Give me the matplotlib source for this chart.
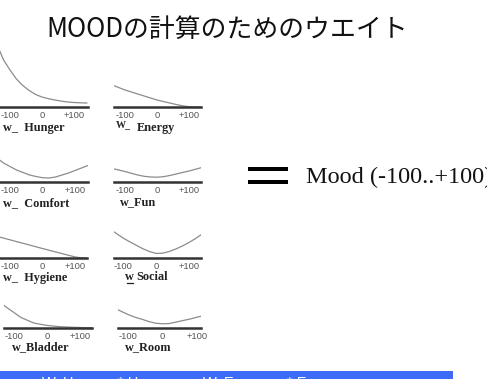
import matplotlib
matplotlib.use("Agg")
import matplotlib.pyplot as plt
from matplotlib.patches import Rectangle
from matplotlib.lines import Line2D

# ---------------- data ----------------
title = "MOODの計算のためのウエイト"
result_label = "Mood (-100..+100)"
x_vals = [-140, -120, -100, -80, -60, -40, -20, 0, 20, 40, 60, 80, 100, 120, 140]
tick_vals = [-100, 0, 100]
tick_labels = ["-100", "0", "+100"]

w_hunger = [62, 47, 37, 28, 21.5, 16.5, 12.5, 10, 8.3, 7, 5.9, 5, 4.5, 4.2, 4]
w_energy = [22, 19.5, 17, 15, 13, 11, 9, 7, 5.5, 4, 2.5, 1.2, 0.3, 0, 0]
w_comfort = [24, 19, 15.5, 12, 9.5, 7, 5.5, 4.3, 4, 5, 7, 9, 11.5, 14, 16.5]
w_fun = [13.5, 12, 10.5, 8.7, 7, 5.7, 5, 4.8, 5.3, 6.5, 8, 9.5, 11, 12.7, 14.5]
w_hygiene = [21.6, 19.9, 18.2, 16.4, 14.7, 13, 11.2, 9.5, 7.8, 6.1, 4.4, 2.7, 1.1, 0.1, 0]
w_social = [29, 24.5, 20, 16.3, 12.8, 9.3, 6.5, 4.6, 4.8, 6.5, 9, 12, 15.5, 19.5, 24]
w_bladder = [25, 20, 15.5, 10.7, 7.8, 5, 3.7, 2.6, 1.9, 1.3, 1, 0.7, 0.5, 0.35, 0.3]
w_room = [20, 16.7, 13.5, 10.8, 8.8, 6.5, 4.8, 4.2, 4.5, 6, 7.5, 9, 10.8, 12.5, 14]

bottom_words = ["+", "W_Hunger", "* Hunger", "W_Energy", "* Energy"]

# ---------------- layout ----------------
W, H = 487, 379
fig = plt.figure(figsize=(W / 100, H / 100), dpi=100)
fig.patch.set_facecolor("white")

def fx(px):
    return px / W

def fy(py):
    return 1 - py / H

# (series, line start px, line end px, tick -100 px, tick +100 px, baseline px)
panels = [
    (w_hunger, 0, 88, 10, 74, 107),
    (w_energy, 114, 201, 125, 189, 107),
    (w_comfort, 0, 88, 10, 75, 182),
    (w_fun, 114, 201, 125, 189, 182),
    (w_hygiene, 0, 87, 10, 75, 258),
    (w_social, 114, 201, 123, 189, 258),
    (w_bladder, 4, 92, 14, 80, 328),
    (w_room, 118, 201, 128, 197, 328),
]

YH = 70
for series, L, R, pm, pp, base in panels:
    ax = fig.add_axes([fx(L), fy(base), (R - L) / W, YH / H])
    ax.patch.set_visible(False)
    s = (pp - pm) / 200.0
    p0 = (pm + pp) / 2.0
    ax.set_xlim((L - p0) / s, (R - p0) / s)
    ax.set_ylim(0, YH)
    ax.plot(x_vals, series, color="#8c8c8c", lw=0.9)
    ax.axhline(0, color="#333333", lw=1.8, clip_on=False)
    for sp in ax.spines.values():
        sp.set_visible(False)
    ax.set_yticks([])
    ax.set_xticks(tick_vals)
    ax.set_xticklabels(tick_labels, fontsize=6.8, color="#555555",
                       family="Liberation Sans")
    ax.tick_params(axis="x", length=0, pad=3.2)

lab_kw = dict(family="Liberation Serif", fontweight="bold", fontsize=8.8,
              color="#222222", va="center", ha="left")
labels = [
    ("w_  Hunger", 3, 128),
    ("Energy", 137, 128),
    ("w_  Comfort", 3, 203),
    ("w_Fun", 120, 202),
    ("w_  Hygiene", 3, 278),
    ("Social", 136, 277),
    ("w_Bladder", 12, 347),
    ("w_Room", 125, 347),
]
for t, x, y in labels:
    fig.text(fx(x), fy(y), t, **lab_kw)
fig.text(fx(116), fy(125), "W_", **{**lab_kw, "fontsize": 7.2})
fig.text(fx(125), fy(277), "w", **lab_kw)
fig.add_artist(Line2D([fx(127), fx(133)], [fy(283), fy(283)],
                      transform=fig.transFigure, color="#222222", lw=0.9))

# title
fig.text(fx(227.5), fy(29), title, family=["Noto Sans CJK JP", "DejaVu Sans"],
         fontsize=18.6, color="#111111", ha="center", va="center")

# equals sign
fig.add_artist(Rectangle((fx(248), fy(171)), 40 / W, 4 / H,
                         transform=fig.transFigure, color="black", lw=0))
fig.add_artist(Rectangle((fx(248), fy(184.5)), 40 / W, 4 / H,
                         transform=fig.transFigure, color="black", lw=0))

fig.text(fx(306), fy(177), result_label, family="Liberation Serif",
         fontsize=17.5, color="#111111", ha="left", va="center")

# bottom blue bar
fig.add_artist(Rectangle((0, 0), 453 / W, 8.5 / H, transform=fig.transFigure,
                         color="#3d6cf7", lw=0))
for t, x in zip(bottom_words, [17, 42, 118, 203, 287]):
    fig.text(fx(x), fy(375.5), t, family="Liberation Sans", fontsize=10.5,
             color="white", ha="left", va="top")

fig.savefig("out.png", dpi=100, facecolor="white")
